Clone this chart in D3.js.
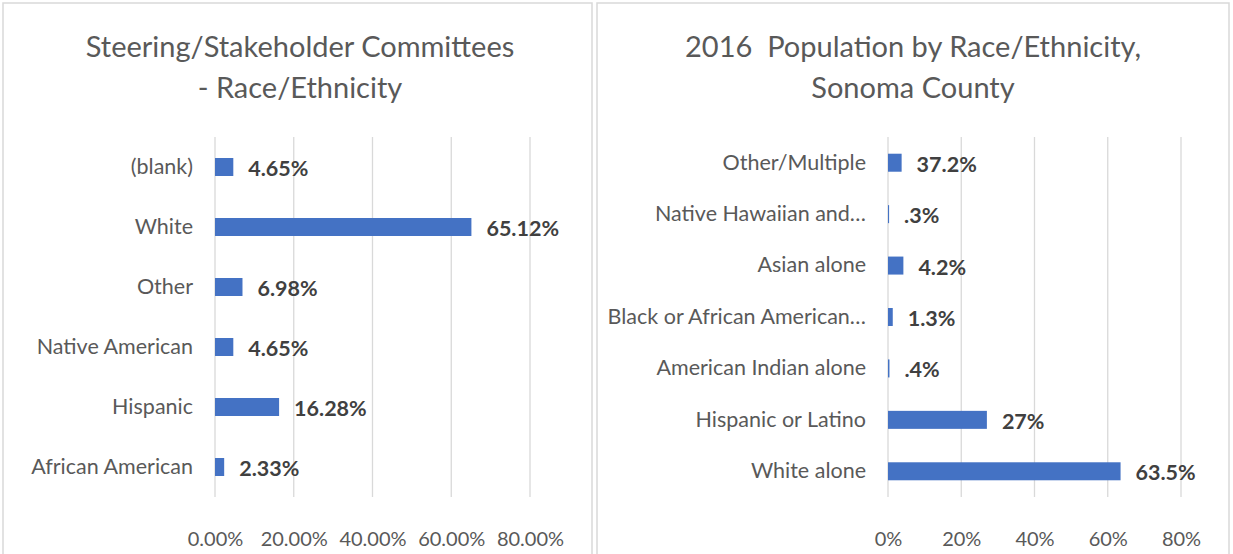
<!DOCTYPE html>
<html><head><meta charset="utf-8">
<script src="https://cdn.jsdelivr.net/npm/d3@7"></script>
<style>body{margin:0;background:#fff}svg{display:block}text{font-family:Lato,"Open Sans",sans-serif}</style>
</head><body><svg id="c" width="1233" height="554"></svg>
<script>
// Left chart data
const leftTitle = ["Steering/Stakeholder Committees", "- Race/Ethnicity"];
const leftCategories = ["(blank)", "White", "Other", "Native American", "Hispanic", "African American"];
const leftValues = [4.65, 65.12, 6.98, 4.65, 16.28, 2.33];
const leftLabels = ["4.65%", "65.12%", "6.98%", "4.65%", "16.28%", "2.33%"];
const leftTicks = [0, 20, 40, 60, 80];
const leftTickLabels = ["0.00%", "20.00%", "40.00%", "60.00%", "80.00%"];

// Right chart data
const rightTitle = ["2016  Population by Race/Ethnicity,", "Sonoma County"];
const rightCategories = ["Other/Multiple", "Native Hawaiian and…", "Asian alone", "Black or African American…", "American Indian alone", "Hispanic or Latino", "White alone"];
const rightValues = [3.72, 0.3, 4.2, 1.3, 0.4, 27, 63.5];
const rightLabels = ["37.2%", ".3%", "4.2%", "1.3%", ".4%", "27%", "63.5%"];
const rightTicks = [0, 20, 40, 60, 80];
const rightTickLabels = ["0%", "20%", "40%", "60%", "80%"];

const svg = d3.select("#c");
const BAR = "#4472C4", GRID = "#d9d9d9", TXT = "#595959", LBL = "#404040";

function panel(cfg) {
  const g = svg.append("g");
  g.append("rect").attr("x", cfg.px).attr("y", 3).attr("width", cfg.pw).attr("height", 560)
    .attr("fill", "#fff").attr("stroke", GRID).attr("stroke-width", 1.5);
  cfg.title.forEach((t, i) => {
    g.append("text").attr("x", cfg.tx).attr("y", 57 + i * 41).attr("text-anchor", "middle")
      .style("white-space", "pre")
      .attr("font-size", 29).attr("fill", TXT).text(t);
  });
  const x = d3.scaleLinear().domain([0, 80]).range([cfg.x0, cfg.x1]);
  const y = d3.scaleBand().domain(cfg.cats).range([cfg.y0, cfg.y1]).paddingInner(cfg.pad).paddingOuter(cfg.pad / 2);
  // grid
  g.append("g").selectAll("line").data(cfg.ticks).join("line")
    .attr("x1", d => x(d)).attr("x2", d => x(d)).attr("y1", cfg.y0).attr("y2", cfg.y1)
    .attr("stroke", GRID).attr("stroke-width", 1.3);
  // x axis labels
  const ax = g.append("g").attr("transform", `translate(0,${cfg.y1})`)
    .call(d3.axisBottom(x).tickValues(cfg.ticks).tickSize(0).tickPadding(35).tickFormat((d, i) => cfg.tickLabels[i]));
  ax.select(".domain").remove();
  ax.selectAll("text").attr("font-size", 20).attr("fill", TXT).attr("font-family", "Lato");
  // y axis labels
  const ay = g.append("g").attr("transform", `translate(${x(0)},0)`)
    .call(d3.axisLeft(y).tickSize(0).tickPadding(cfg.lpad));
  ay.select(".domain").remove();
  ay.selectAll("text").attr("font-size", 21.5).attr("fill", TXT).attr("font-family", "Lato");
  // bars
  g.append("g").selectAll("rect").data(cfg.vals).join("rect")
    .attr("x", x(0)).attr("y", (d, i) => y(cfg.cats[i]))
    .attr("width", d => x(d) - x(0)).attr("height", y.bandwidth()).attr("fill", BAR);
  // data labels
  g.append("g").selectAll("text").data(cfg.vals).join("text")
    .attr("x", d => x(d) + 15).attr("y", (d, i) => y(cfg.cats[i]) + y.bandwidth() / 2 + 9)
    .attr("font-size", 21.5).attr("font-weight", "bold").attr("fill", LBL)
    .text((d, i) => cfg.labels[i]);
}

panel({px: 3, pw: 589, tx: 300, title: leftTitle, cats: leftCategories, vals: leftValues, labels: leftLabels,
  ticks: leftTicks, tickLabels: leftTickLabels, x0: 215, x1: 530, y0: 137, y1: 497, pad: 0.7, lpad: 22});
panel({px: 597, pw: 632, tx: 913, title: rightTitle, cats: rightCategories, vals: rightValues, labels: rightLabels,
  ticks: rightTicks, tickLabels: rightTickLabels, x0: 888, x1: 1181, y0: 137, y1: 497, pad: 0.65, lpad: 22});
</script></body></html>
